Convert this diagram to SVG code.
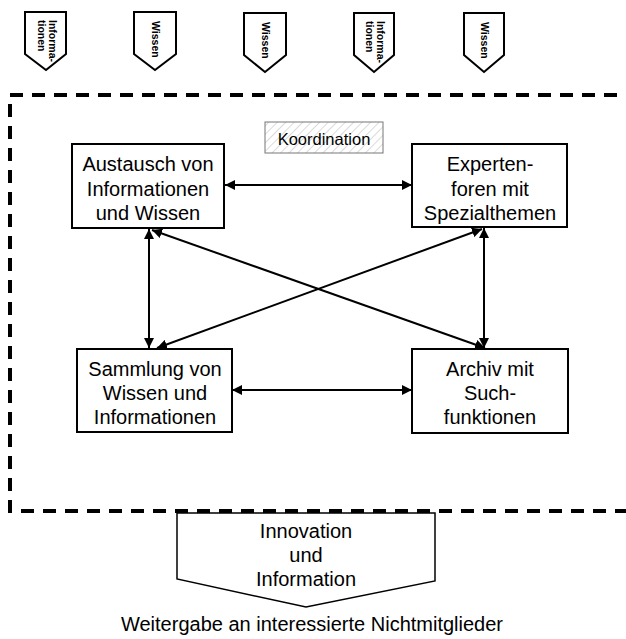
<svg xmlns="http://www.w3.org/2000/svg" width="626" height="639" viewBox="0 0 626 639">
<style>
text{font-family:"Liberation Sans",Arial,sans-serif;fill:#000}
.box{fill:#fff;stroke:#000;stroke-width:2}
.bt{font-size:20px;text-anchor:middle}
.tag{fill:#fff;stroke:#000;stroke-width:2}
.tt{font-size:10.5px;font-weight:bold}
.con{stroke:#000;stroke-width:2;fill:none;marker-start:url(#ah);marker-end:url(#ah)}
</style>
<defs>
<marker id="ah" viewBox="0 0 10 10" refX="10" refY="5" markerWidth="5" markerHeight="5" orient="auto-start-reverse" markerUnits="strokeWidth">
<path d="M0,0 L10,5 L0,10 z" fill="#000"/>
</marker>
<pattern id="hatch" width="6" height="6" patternUnits="userSpaceOnUse" patternTransform="rotate(45)">
<rect width="6" height="6" fill="#fff"/>
<line x1="0" y1="0" x2="0" y2="6" stroke="#d0d0d0" stroke-width="1.5"/>
</pattern>
</defs>
<rect width="626" height="639" fill="#fff"/>

<g id="input-1">
<path class="tag" d="M25,12 H66 V54 L46,70 L25,54 Z"/>
<text class="tt" transform="translate(49,20) rotate(90)">Informa-</text>
<text class="tt" transform="translate(38,20) rotate(90)">tionen</text>
</g>
<g id="input-2">
<path class="tag" d="M134,12 H176 V54 L155,70 L134,54 Z"/>
<text class="tt" transform="translate(151.5,21) rotate(90)">Wissen</text>
</g>
<g id="input-3">
<path class="tag" d="M244,13 H286 V55 L265,72 L244,55 Z"/>
<text class="tt" transform="translate(261.5,22) rotate(90)">Wissen</text>
</g>
<g id="input-4">
<path class="tag" d="M354,13 H394 V55 L374,72 L354,55 Z"/>
<text class="tt" transform="translate(377,21) rotate(90)">Informa-</text>
<text class="tt" transform="translate(366,21) rotate(90)">tionen</text>
</g>
<g id="input-5">
<path class="tag" d="M464,13 H504 V55 L484,72 L464,55 Z"/>
<text class="tt" transform="translate(480.5,22) rotate(90)">Wissen</text>
</g>

<g id="network-frame">
<rect x="10" y="95" width="640" height="416" fill="none" stroke="#000" stroke-width="4" stroke-dasharray="13,9"/>
</g>

<g id="koordination">
<rect x="265" y="122" width="118" height="31" fill="url(#hatch)" stroke="#777" stroke-width="1"/>
<text x="324" y="145" font-size="16.5" text-anchor="middle">Koordination</text>
</g>

<g id="connectors">
<line class="con" x1="225" y1="185" x2="412" y2="185"/>
<line class="con" x1="232" y1="390" x2="412" y2="390"/>
<line class="con" x1="149" y1="229" x2="149" y2="348"/>
<line class="con" x1="484" y1="228" x2="484" y2="348"/>
<line class="con" x1="152" y1="230" x2="485" y2="348"/>
<line class="con" x1="157" y1="348" x2="482" y2="229"/>
</g>

<g id="node-austausch">
<rect class="box" x="72" y="144" width="152" height="84"/>
<text class="bt" x="148" y="171">Austausch von</text>
<text class="bt" x="148" y="196">Informationen</text>
<text class="bt" x="148" y="220">und Wissen</text>
</g>
<g id="node-expertenforen">
<rect class="box" x="412" y="144" width="155" height="83"/>
<text class="bt" x="490" y="171">Experten-</text>
<text class="bt" x="490" y="196">foren mit</text>
<text class="bt" x="490" y="220">Spezialthemen</text>
</g>
<g id="node-sammlung">
<rect class="box" x="77" y="349" width="155" height="83"/>
<text class="bt" x="155" y="376">Sammlung von</text>
<text class="bt" x="155" y="400">Wissen und</text>
<text class="bt" x="155" y="424">Informationen</text>
</g>
<g id="node-archiv">
<rect class="box" x="412" y="349" width="156" height="84"/>
<text class="bt" x="490" y="376">Archiv mit</text>
<text class="bt" x="490" y="400">Such-</text>
<text class="bt" x="490" y="424">funktionen</text>
</g>

<g id="output">
<path d="M177,513 H435 V581 L306,607 L177,579 Z" fill="#fff" stroke="#000" stroke-width="1.5"/>
<text class="bt" x="306" y="538">Innovation</text>
<text class="bt" x="306" y="562">und</text>
<text class="bt" x="306" y="586">Information</text>
</g>

<g id="caption">
<text class="bt" x="312" y="631">Weitergabe an interessierte Nichtmitglieder</text>
</g>
</svg>
